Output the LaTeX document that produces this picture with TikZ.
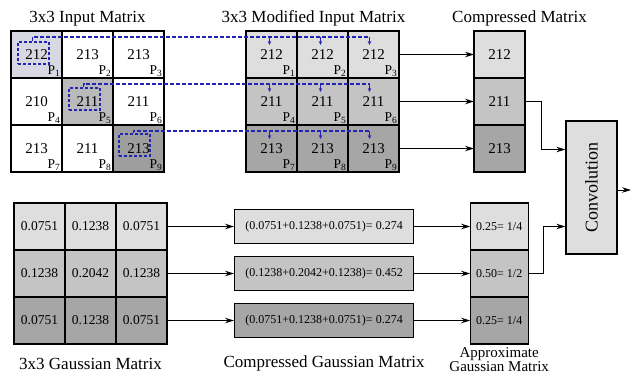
\documentclass[tikz,border=0pt]{standalone}
\usepackage{fontspec}
\setmainfont{Liberation Serif}
\usetikzlibrary{positioning, arrows.meta, calc}
\tikzset{>={Stealth[length=9pt, width=5.5pt]}}

\definecolor{shadeA}{HTML}{DEDEDE}
\definecolor{shadeB}{HTML}{C4C4C4}
\definecolor{shadeC}{HTML}{A6A6A6}
\definecolor{selfill}{HTML}{D8D8E2}
\definecolor{selblue}{HTML}{2424B4}

\newcommand\ttlfont{\fontsize{17}{18}\selectfont}
\newcommand\numfont{\fontsize{15}{16}\selectfont}
\newcommand\pfont{\fontsize{13.5}{13.5}\selectfont}
\newcommand\gfont{\fontsize{13.5}{14}\selectfont}
\newcommand\sfont{\fontsize{12}{13}\selectfont}
\newcommand\psub[1]{P\textsubscript{#1}}

\begin{document}
\begin{tikzpicture}[
    x=1pt, y=-1pt,
    cell/.style={draw, line width=1.2pt, minimum width=51pt, minimum height=47pt,
                 inner sep=0pt, outer sep=0pt, font=\numfont},
    plab/.style={anchor=south east, inner sep=1.5pt, font=\pfont},
    pl/.style={label={[plab]south east:\psub{#1}}},
    gcell/.style={cell, font=\gfont},
    acell/.style={cell, minimum width=58pt, font=\sfont},
    sumbox/.style={draw, line width=1.2pt, minimum width=179pt, minimum height=34pt,
                   inner sep=0pt, font=\sfont},
    convbox/.style={draw, line width=1.2pt, fill=shadeA, minimum width=51pt,
                    minimum height=133pt, font=\fontsize{18}{18}\selectfont},
    title/.style={font=\ttlfont, inner sep=0pt},
    selbox/.style={draw=selblue, dash pattern=on 3pt off 2pt, line width=1.1pt,
                   minimum width=31pt, minimum height=22pt, inner sep=0pt},
    selline/.style={selblue, dash pattern=on 4pt off 2pt, line width=1.1pt},
    selarrow/.style={-{Stealth[length=4pt, width=3.5pt]}, selblue, line width=1pt},
    flow/.style={->, line width=1pt},
  ]
  \useasboundingbox (0,0) rectangle (631,375);

  \node[cell, fill=selfill, pl=1] (in11) at (36.5,54.5) {212};
  \node[cell, right=0pt of in11, pl=2] (in12) {213};
  \node[cell, right=0pt of in12, pl=3] (in13) {213};
  \node[cell, below=0pt of in11, pl=4] (in21) {210};
  \node[cell, fill=shadeB!95!black, right=0pt of in21, pl=5] (in22) {211};
  \node[cell, right=0pt of in22, pl=6] (in23) {211};
  \node[cell, below=0pt of in21, pl=7] (in31) {213};
  \node[cell, right=0pt of in31, pl=8] (in32) {211};
  \node[cell, fill=shadeC!95!black, right=0pt of in32, pl=9] (in33) {213};
  \node[title, above=5pt of in12] (tin) {3x3 Input Matrix};

  \node[cell, fill=shadeA, right=82pt of in13, pl=1] (mod11) {212};
  \node[cell, fill=shadeA, right=0pt of mod11, pl=2] (mod12) {212};
  \node[cell, fill=shadeA, right=0pt of mod12, pl=3] (mod13) {212};
  \node[cell, fill=shadeB, below=0pt of mod11, pl=4] (mod21) {211};
  \node[cell, fill=shadeB, right=0pt of mod21, pl=5] (mod22) {211};
  \node[cell, fill=shadeB, right=0pt of mod22, pl=6] (mod23) {211};
  \node[cell, fill=shadeC, below=0pt of mod21, pl=7] (mod31) {213};
  \node[cell, fill=shadeC, right=0pt of mod31, pl=8] (mod32) {213};
  \node[cell, fill=shadeC, right=0pt of mod32, pl=9] (mod33) {213};
  \node[title, above=5pt of mod12, xshift=-9pt] (tmod) {3x3 Modified Input Matrix};

  \node[cell, fill=shadeA, right=75pt of mod13] (cmp1) {212};
  \node[cell, fill=shadeB, below=0pt of cmp1] (cmp2) {211};
  \node[cell, fill=shadeC, below=0pt of cmp2] (cmp3) {213};
  \node[title, above=5pt of cmp1, xshift=20pt] (tcmp) {Compressed Matrix};

  \node[convbox] (conv) at (591.5,187.5) {\rotatebox{90}{Convolution}};

  \node[gcell, fill=shadeA] (gau11) at (39.5,226.5) {0.0751};
  \node[gcell, fill=shadeA, right=0pt of gau11] (gau12) {0.1238};
  \node[gcell, fill=shadeA, right=0pt of gau12] (gau13) {0.0751};
  \node[gcell, fill=shadeB, below=0pt of gau11] (gau21) {0.1238};
  \node[gcell, fill=shadeB, right=0pt of gau21] (gau22) {0.2042};
  \node[gcell, fill=shadeB, right=0pt of gau22] (gau23) {0.1238};
  \node[gcell, fill=shadeC, below=0pt of gau21] (gau31) {0.0751};
  \node[gcell, fill=shadeC, right=0pt of gau31] (gau32) {0.1238};
  \node[gcell, fill=shadeC, right=0pt of gau32] (gau33) {0.0751};
  \node[title, below=14pt of gau32] (tgau) {3x3 Gaussian Matrix};

  \node[sumbox, fill=shadeA, right=67pt of gau13] (cg1) {(0.0751+0.1238+0.0751)= 0.274};
  \node[sumbox, fill=shadeB, right=67pt of gau23] (cg2) {(0.1238+0.2042+0.1238)= 0.452};
  \node[sumbox, fill=shadeC, right=67pt of gau33] (cg3) {(0.0751+0.1238+0.0751)= 0.274};
  \node[title, below=17pt of cg3] (tcg) {Compressed Gaussian Matrix};

  \node[acell, fill=shadeA, right=56pt of cg1] (ag1) {0.25= 1/4};
  \node[acell, fill=shadeB, below=0pt of ag1] (ag2) {0.50= 1/2};
  \node[acell, fill=shadeC, below=0pt of ag2] (ag3) {0.25= 1/4};
  \node[title, below=3pt of ag3, align=center, font=\fontsize{15}{12.5}\selectfont]
    (tag) {Approximate\\Gaussian Matrix};

  \node[selbox] (sel1) at ($(in11)+(-3,-1.5)$) {};
  \node[selbox] (sel2) at ($(in22)+(-3,-2.5)$) {};
  \node[selbox] (sel3) at ($(in33)+(-4,-3.5)$) {};
  \draw[selline] ($(sel1.north)+(-1,0)$) |- ($(mod13.north)+(-4,6)$);
  \draw[selline] ($(sel2.north)+(-1,0)$) |- ($(mod23.north)+(-4,6)$);
  \draw[selline] ($(sel3.north)+(-1,0)$) |- ($(mod33.north)+(-4,6)$);
  \draw[selarrow] ($(mod11.north)+(-2,6)$) -- ++(0,8);
  \draw[selarrow] ($(mod12.north)+(-2,6)$) -- ++(0,8);
  \draw[selarrow] ($(mod13.north)+(-4,6)$) -- ++(0,8);
  \draw[selarrow] ($(mod21.north)+(-2,6)$) -- ++(0,8);
  \draw[selarrow] ($(mod22.north)+(-2,6)$) -- ++(0,8);
  \draw[selarrow] ($(mod23.north)+(-4,6)$) -- ++(0,8);
  \draw[selarrow] ($(mod31.north)+(-2,6)$) -- ++(0,8);
  \draw[selarrow] ($(mod32.north)+(-2,6)$) -- ++(0,8);
  \draw[selarrow] ($(mod33.north)+(-4,6)$) -- ++(0,8);

  \draw[flow] (mod13) -- (cmp1);
  \draw[flow] (mod23) -- (cmp2);
  \draw[flow] (mod33) -- (cmp3);
  \draw[flow] (gau13) -- (cg1);
  \draw[flow] (gau23) -- (cg2);
  \draw[flow] (gau33) -- (cg3);
  \draw[flow] (cg1) -- (ag1);
  \draw[flow] (cg2) -- (ag2);
  \draw[flow] (cg3) -- (ag3);
  \draw[flow] (cmp2.east) -- ++(16,0) |- ($(conv.west)+(0,-38)$);
  \draw[flow] (ag2.east) -- ++(15,0) |- ($(conv.west)+(0,39)$);
  \coordinate (out) at (631,190);
  \draw[flow] (conv.east |- out) -- (out);
\end{tikzpicture}
\end{document}
